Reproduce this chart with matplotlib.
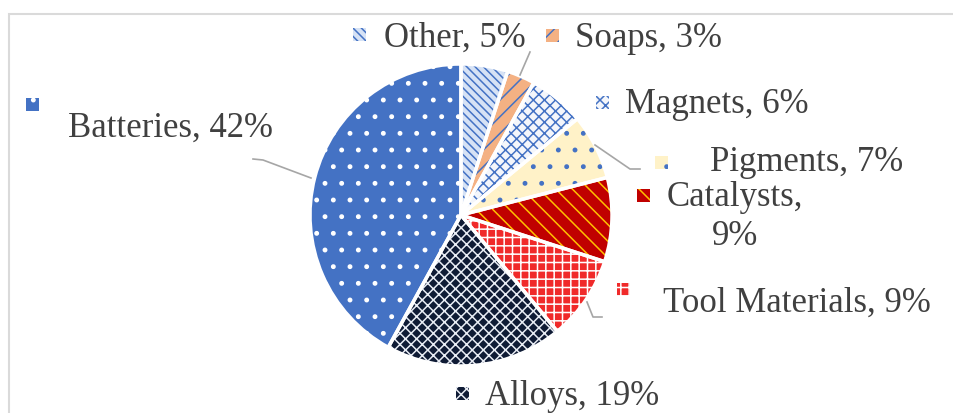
import matplotlib.pyplot as plt
from matplotlib.patches import Rectangle

W, H = 954, 413

labels = ['Other', 'Soaps', 'Magnets', 'Pigments', 'Catalysts',
          'Tool Materials', 'Alloys', 'Batteries']
shares = [5, 3, 6, 7, 9, 9, 19, 42]

faces   = ['#D6E2F5', '#F4B183', '#F4F6FB', '#FFF2C8', '#C00000',
           '#F02A2A', '#0F1B35', '#4472C4']
hatches = ['\\\\\\\\', '//', 'xxx', '.', '\\\\', '++', 'xxx', '.']
hcolors = ['#4472C4', '#4472C4', '#4472C4', '#4472C4', '#FFC000',
           '#FFFFFF', '#E8ECF4', '#FFFFFF']

# label layout in pixel space (x, baseline y from top)
key_pos = [(360, 34), (553, 35), (603, 102), (662, 162), (644, 195),
           (624, 289), (463, 393), (33, 104)]
txt_pos = [(384, 47), (575, 47), (625, 113), (710, 171), (735, 206),
           (663, 312), (485, 405), (68, 137)]
leaders = {
    'Soaps': [(530, 52), (520, 75)],
    'Batteries': [(253, 159), (263, 160), (311, 178)],
    'Pigments': [(595, 145), (630, 169), (640, 169)],
    'Tool Materials': [(587, 302), (593, 317), (602, 317)],
}

plt.rcParams['font.family'] = ['Liberation Serif', 'DejaVu Serif']
plt.rcParams['hatch.linewidth'] = 1.1

fig = plt.figure(figsize=(W / 100, H / 100), dpi=100)
ax = fig.add_axes([0, 0, 1, 1])

cx, cy, r = 461, H - 215, 151
common = dict(startangle=90, counterclock=False, center=(cx, cy),
              radius=r, frame=True)

# base fill
ax.pie(shares, colors=faces, wedgeprops=dict(linewidth=0), **common)
# pattern layer
hw, _ = ax.pie(shares, wedgeprops=dict(facecolor='none', linewidth=0), **common)
for w, h, c in zip(hw, hatches, hcolors):
    w.set_edgecolor(c)
    w.set_hatch(h)
# white separators
ax.pie(shares, wedgeprops=dict(facecolor='none', edgecolor='white',
                               linewidth=2.5), **common)

# legend keys and value labels
for i, name in enumerate(labels):
    kx, ky = key_pos[i]
    s = 13
    ax.add_patch(Rectangle((kx - s / 2, H - ky - s / 2), s, s,
                           facecolor=faces[i], edgecolor='none'))
    ax.add_patch(Rectangle((kx - s / 2, H - ky - s / 2), s, s,
                           facecolor='none', edgecolor=hcolors[i],
                           hatch=hatches[i], linewidth=0))
    tx, ty = txt_pos[i]
    if name == 'Catalysts':
        ax.text(tx, H - ty, 'Catalysts,', ha='center', va='baseline',
                fontsize=25, color='#404040')
        ax.text(tx, H - ty - 39, f'{shares[i]}%', ha='center',
                va='baseline', fontsize=25, color='#404040')
    else:
        ax.text(tx, H - ty, f'{name}, {shares[i]}%', ha='left',
                va='baseline', fontsize=25, color='#404040')

for pts in leaders.values():
    ax.plot([p[0] for p in pts], [H - p[1] for p in pts],
            color='#A6A6A6', lw=1.2)

# chart frame
ax.add_patch(Rectangle((9.5, -20), W + 20, H - 14 + 20, facecolor='none',
                       edgecolor='#DADADA', linewidth=1.5))

ax.set_xlim(0, W)
ax.set_ylim(0, H)
ax.set_aspect('auto')
ax.axis('off')

fig.savefig('out.png', dpi=100)
